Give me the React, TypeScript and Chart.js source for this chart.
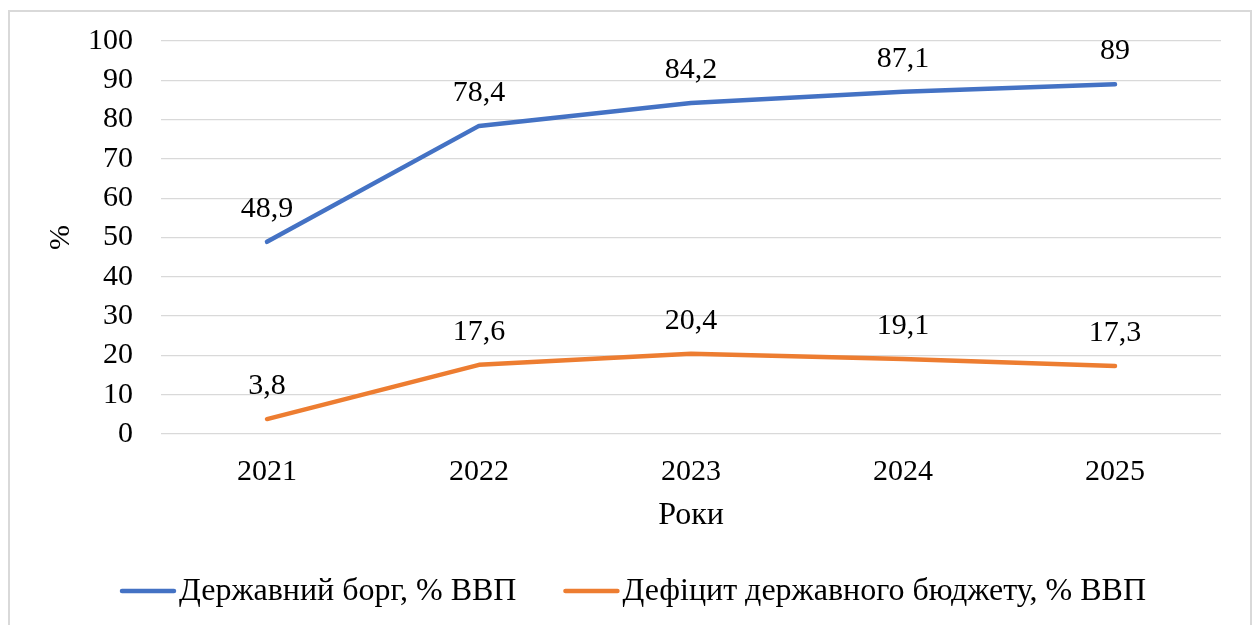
import React, { useEffect, useRef } from "react";
import { Chart, registerables } from "chart.js";

Chart.register(...registerables);

const years = ["2021", "2022", "2023", "2024", "2025"];
const debtValues = [48.9, 78.4, 84.2, 87.1, 89];
const deficitValues = [3.8, 17.6, 20.4, 19.1, 17.3];
const seriesLabels = ["Державний борг, % ВВП", "Дефіцит державного бюджету, % ВВП"];
const seriesColors = ["#4472C4", "#ED7D31"];
const yTitle = "%";
const xTitle = "Роки";

const FONT = "'Liberation Serif', 'Times New Roman', serif";
const FS = 30;
const FS_TEXT = 32;

const fmt = (v: number) => String(v).replace(".", ",");

const dataLabelPlugin = {
  id: "dataLabels",
  afterDatasetsDraw(chart: any) {
    const ctx = chart.ctx;
    ctx.save();
    ctx.font = `${FS}px ${FONT}`;
    ctx.fillStyle = "#000";
    ctx.textAlign = "center";
    ctx.textBaseline = "alphabetic";
    chart.data.datasets.forEach((ds: any, i: number) => {
      const meta = chart.getDatasetMeta(i);
      meta.data.forEach((pt: any, j: number) => {
        ctx.fillText(fmt(ds.data[j]), pt.x, pt.y - 25);
      });
    });
    ctx.restore();
  },
};

const legendPlugin = {
  id: "customLegend",
  afterDraw(chart: any) {
    const ctx = chart.ctx;
    ctx.save();
    ctx.font = `${FS_TEXT}px ${FONT}`;
    const marker = 56;
    const gap = 3;
    const itemGap = 47;
    const items = chart.data.datasets.map((ds: any) => ({
      label: ds.label,
      color: ds.borderColor,
      w: ctx.measureText(ds.label).width,
    }));
    let total = 0;
    items.forEach((it: any, i: number) => {
      total += marker + gap + it.w + (i > 0 ? itemGap : 0);
    });
    const cx = 625;
    const cy = 584;
    let x = cx - total / 2;
    items.forEach((it: any) => {
      ctx.strokeStyle = it.color;
      ctx.lineWidth = 4.5;
      ctx.lineCap = "round";
      ctx.beginPath();
      ctx.moveTo(x + 2, cy - 1);
      ctx.lineTo(x + marker - 2, cy - 1);
      ctx.stroke();
      ctx.fillStyle = "#000";
      ctx.textAlign = "left";
      ctx.textBaseline = "middle";
      ctx.fillText(it.label, x + marker + gap, cy);
      x += marker + gap + it.w + itemGap;
    });
    ctx.restore();
  },
};

export default function App() {
  const canvasRef = useRef<HTMLCanvasElement | null>(null);

  useEffect(() => {
    if (!canvasRef.current) return;
    const chart = new Chart(canvasRef.current, {
      type: "line",
      data: {
        labels: years,
        datasets: [
          {
            label: seriesLabels[0],
            data: debtValues,
            borderColor: seriesColors[0],
            backgroundColor: seriesColors[0],
            borderWidth: 4.5,
            borderCapStyle: "round",
            borderJoinStyle: "round",
            pointRadius: 0,
            tension: 0,
          },
          {
            label: seriesLabels[1],
            data: deficitValues,
            borderColor: seriesColors[1],
            backgroundColor: seriesColors[1],
            borderWidth: 4.5,
            borderCapStyle: "round",
            borderJoinStyle: "round",
            pointRadius: 0,
            tension: 0,
          },
        ],
      },
      options: {
        animation: false,
        responsive: true,
        maintainAspectRatio: false,
        layout: { padding: { left: 0, right: 29, top: 33, bottom: 90 } },
        plugins: {
          legend: { display: false },
          tooltip: { enabled: false },
        },
        scales: {
          x: {
            offset: true,
            grid: { display: false, drawTicks: false },
            border: { display: false },
            ticks: {
              padding: 20,
              color: "#000",
              font: { family: FONT, size: FS },
            },
            title: {
              display: true,
              text: xTitle,
              color: "#000",
              font: { family: FONT, size: FS_TEXT },
              padding: { top: 0, bottom: 0 },
            },
            afterFit(scale: any) {
              scale.height = 101;
              scale.paddingLeft = 0;
              scale.paddingRight = 0;
            },
          },
          y: {
            min: 0,
            max: 100,
            ticks: {
              stepSize: 10,
              autoSkip: false,
              padding: 28,
              color: "#000",
              font: { family: FONT, size: FS },
            },
            grid: { color: "#d9d9d9", lineWidth: 1.3, drawTicks: false },
            border: { display: false },
            title: {
              display: true,
              text: yTitle,
              color: "#000",
              font: { family: FONT, size: FS },
              padding: { top: 35, bottom: 0 },
            },
            afterFit(scale: any) {
              scale.width = 153;
              scale.paddingTop = 0;
              scale.paddingBottom = 0;
            },
          },
        },
      },
      plugins: [dataLabelPlugin, legendPlugin],
    });
    return () => chart.destroy();
  }, []);

  return (
    <div>
      <div
        style={{
          position: "fixed",
          left: 8,
          top: 10,
          width: 1244,
          height: 700,
          boxSizing: "border-box",
          border: "2px solid #d9d9d9",
          background: "#fff",
        }}
      />
      <div style={{ position: "fixed", left: 8, top: 8, width: 1242, height: 617 }}>
        <canvas ref={canvasRef} />
      </div>
    </div>
  );
}
